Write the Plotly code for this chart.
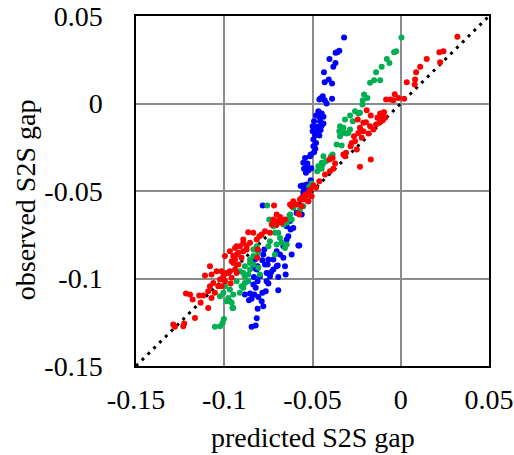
import plotly.graph_objects as go

# ---- data (predicted, observed S2S gap) ----
blue_x = [-0.0321, -0.0348, -0.0359, -0.0369, -0.0404, -0.0370, -0.0382, -0.0435, -0.0408, -0.0431,
          -0.0389, -0.0442, -0.0454, -0.0431, -0.0420, -0.0389, -0.0461, -0.0467, -0.0448, -0.0438,
          -0.0461, -0.0480, -0.0491, -0.0457, -0.0438, -0.0499, -0.0473, -0.0448, -0.0499, -0.0476,
          -0.0454, -0.0486, -0.0461, -0.0495, -0.0480, -0.0495, -0.0484, -0.0491, -0.0510, -0.0542,
          -0.0552, -0.0529, -0.0548, -0.0522, -0.0537, -0.0507, -0.0510, -0.0533, -0.0556, -0.0548,
          -0.0524, -0.0782, -0.0552, -0.0524, -0.0627, -0.0646, -0.0624, -0.0637, -0.0646, -0.0580,
          -0.0665, -0.0618, -0.0703, -0.0684, -0.0722, -0.0665, -0.0779, -0.0750, -0.0769, -0.0722,
          -0.0703, -0.0656, -0.0760, -0.0816, -0.0798, -0.0741, -0.0694, -0.0832, -0.0652, -0.0697,
          -0.0754, -0.0735, -0.0760, -0.0750, -0.0811, -0.0835, -0.0822, -0.0694, -0.0765, -0.0784,
          -0.0854, -0.0830, -0.0883, -0.0807, -0.0845, -0.0860, -0.0788, -0.0779, -0.0811, -0.0816,
          -0.0822, -0.0845, -0.0773, -0.0807, -0.0826, -0.0784, -0.0811, -0.0835, -0.0567, -0.0609,
          -0.0590, -0.0561, -0.0609, -0.0575, -0.0514, -0.0533]
blue_y = [0.0377, 0.0301, 0.0293, 0.0290, 0.0255, 0.0232, 0.0210, 0.0179, 0.0137, 0.0122,
          0.0114, 0.0042, 0.0030, 0.0019, 0.0000, 0.0027, 0.0023, -0.0044, -0.0057, -0.0076,
          -0.0076, -0.0069, -0.0101, -0.0101, -0.0114, -0.0130, -0.0133, -0.0126, -0.0158, -0.0158,
          -0.0152, -0.0183, -0.0183, -0.0206, -0.0225, -0.0244, -0.0259, -0.0278, -0.0291, -0.0311,
          -0.0339, -0.0343, -0.0373, -0.0381, -0.0396, -0.0370, -0.0438, -0.0463, -0.0469, -0.0491,
          -0.0488, -0.0583, -0.0511, -0.0558, -0.0672, -0.0701, -0.0720, -0.0758, -0.0777, -0.0812,
          -0.0815, -0.0863, -0.0844, -0.0863, -0.0892, -0.0882, -0.0863, -0.0892, -0.0920, -0.0949,
          -0.0930, -0.0930, -0.0968, -0.0949, -0.0987, -0.0987, -0.0991, -0.0991, -0.0977, -0.0926,
          -0.0920, -0.0964, -0.1015, -0.1029, -0.1015, -0.1034, -0.1053, -0.1067, -0.1073, -0.1082,
          -0.1086, -0.1092, -0.1092, -0.1105, -0.1116, -0.1124, -0.1130, -0.1158, -0.1173, -0.1227,
          -0.1269, -0.1276, -0.0834, -0.0844, -0.0892, -0.0895, -0.0930, -0.0939, -0.0472, -0.0587,
          -0.0625, -0.0634, -0.0711, -0.0812, -0.0301, -0.0358]

green_x = [0.0004, -0.0026, -0.0038, -0.0079, -0.0064, -0.0108, -0.0140, -0.0117, -0.0151, -0.0174,
           -0.0208, -0.0189, -0.0215, -0.0217, -0.0259, -0.0240, -0.0287, -0.0316, -0.0272, -0.0344,
           -0.0325, -0.0348, -0.0321, -0.0297, -0.0344, -0.0363, -0.0335, -0.0386, -0.0438, -0.0423,
           -0.0448, -0.0467, -0.0448, -0.0473, -0.0495, -0.0518, -0.0533, -0.0756, -0.0745, -0.0609,
           -0.0627, -0.0618, -0.0646, -0.0665, -0.0694, -0.0713, -0.0684, -0.0675, -0.0703, -0.0656,
           -0.0816, -0.0835, -0.0807, -0.0835, -0.0854, -0.0835, -0.0807, -0.0854, -0.0864, -0.0892,
           -0.0883, -0.0911, -0.0883, -0.0930, -0.0902, -0.0996, -0.0968, -0.1005, -0.0949, -0.0977,
           -0.0987, -0.0958, -0.0949, -0.1024, -0.1053, -0.1024, -0.1009, -0.1002, -0.0713, -0.0750,
           -0.0741, -0.0646, -0.0798, -0.0864, -0.0883, -0.0892, -0.0911, -0.0968, -0.0954, -0.0395,
           -0.0442, -0.0505, -0.0552, -0.0571, -0.0631, -0.0231, -0.0306, -0.0287, -0.0722, -0.0854]
green_y = [0.0377, 0.0299, 0.0293, 0.0255, 0.0232, 0.0210, 0.0179, 0.0133, 0.0133, 0.0118,
           0.0051, 0.0032, 0.0019, -0.0006, -0.0044, -0.0057, -0.0069, -0.0091, -0.0101, -0.0130,
           -0.0139, -0.0158, -0.0168, -0.0168, -0.0187, -0.0234, -0.0240, -0.0291, -0.0301, -0.0330,
           -0.0339, -0.0358, -0.0373, -0.0387, -0.0472, -0.0476, -0.0533, -0.0583, -0.0663, -0.0596,
           -0.0634, -0.0663, -0.0682, -0.0692, -0.0739, -0.0739, -0.0768, -0.0796, -0.0806, -0.0825,
           -0.0815, -0.0834, -0.0853, -0.0872, -0.0892, -0.0920, -0.0939, -0.0949, -0.0977, -0.0968,
           -0.0930, -0.0958, -0.0987, -0.1015, -0.1044, -0.1044, -0.1063, -0.1082, -0.1092, -0.1111,
           -0.1130, -0.1139, -0.1168, -0.1101, -0.1276, -0.1273, -0.1253, -0.1231, -0.0863, -0.0815,
           -0.0787, -0.0806, -0.0977, -0.1015, -0.1025, -0.1053, -0.1082, -0.1130, -0.1168, -0.0301,
           -0.0349, -0.0457, -0.0587, -0.0606, -0.0653, -0.0053, -0.0171, -0.0149, -0.0701, -0.0911]

red_x = [0.0321, 0.0242, 0.0219, 0.0223, 0.0147, 0.0110, 0.0087, 0.0034, 0.0081, 0.0079,
         -0.0034, -0.0060, -0.0083, -0.0042, -0.0013, 0.0019, -0.0095, -0.0108, -0.0089, -0.0102,
         -0.0170, -0.0117, -0.0132, -0.0197, -0.0174, -0.0231, -0.0212, -0.0240, -0.0183, -0.0265,
         -0.0221, -0.0155, -0.0140, -0.0121, -0.0278, -0.0259, -0.0284, -0.0249, -0.0310, -0.0170,
         -0.0316, -0.0386, -0.0404, -0.0372, -0.0382, -0.0401, -0.0231, -0.0429, -0.0461, -0.0495,
         -0.0514, -0.0480, -0.0537, -0.0505, -0.0524, -0.0571, -0.0609, -0.0590, -0.0561, -0.0518,
         -0.0542, -0.0561, -0.0627, -0.0718, -0.0575, -0.0703, -0.0684, -0.0722, -0.0694, -0.0656,
         -0.0675, -0.0703, -0.0731, -0.0741, -0.0769, -0.0788, -0.0801, -0.0835, -0.0864, -0.0816,
         -0.0892, -0.0854, -0.0873, -0.0911, -0.0939, -0.0892, -0.0930, -0.0949, -0.0902, -0.0958,
         -0.0920, -0.0939, -0.0968, -0.1081, -0.1109, -0.1072, -0.1043, -0.1015, -0.1062, -0.1034,
         -0.1081, -0.1091, -0.1053, -0.1072, -0.1217, -0.1194, -0.1179, -0.1119, -0.1134, -0.1091,
         -0.1166, -0.1289, -0.1280, -0.0996, -0.0968, -0.0939, -0.0920, -0.0977, -0.0958, -0.0996,
         -0.1015, -0.1005, -0.0930, -0.0892, -0.1227, -0.1232, -0.1142, -0.0964, -0.0930, -0.0873,
         -0.0811, -0.0813, -0.0193, -0.0244, -0.0098, -0.0325, -0.0552, -0.0580, -0.0618, -0.0987,
         -0.1024, -0.0949, -0.0212]
red_y = [0.0381, 0.0299, 0.0293, 0.0236, 0.0255, 0.0210, 0.0179, 0.0122, 0.0137, 0.0109,
         0.0053, 0.0023, 0.0023, 0.0019, 0.0032, 0.0027, -0.0050, -0.0072, -0.0082, -0.0095,
         -0.0069, -0.0057, -0.0082, -0.0107, -0.0130, -0.0139, -0.0158, -0.0168, -0.0171, -0.0187,
         -0.0196, -0.0149, -0.0120, -0.0110, -0.0225, -0.0215, -0.0244, -0.0263, -0.0282, -0.0320,
         -0.0301, -0.0311, -0.0320, -0.0343, -0.0373, -0.0387, -0.0362, -0.0406, -0.0444, -0.0469,
         -0.0491, -0.0482, -0.0526, -0.0530, -0.0558, -0.0549, -0.0558, -0.0577, -0.0587, -0.0501,
         -0.0520, -0.0539, -0.0577, -0.0583, -0.0634, -0.0634, -0.0648, -0.0663, -0.0672, -0.0663,
         -0.0682, -0.0692, -0.0692, -0.0739, -0.0730, -0.0749, -0.0758, -0.0739, -0.0735, -0.0777,
         -0.0777, -0.0796, -0.0815, -0.0815, -0.0825, -0.0844, -0.0863, -0.0872, -0.0882, -0.0901,
         -0.0920, -0.0949, -0.0958, -0.0930, -0.0983, -0.0977, -0.0958, -0.0958, -0.1025, -0.1044,
         -0.1044, -0.1073, -0.1082, -0.1111, -0.1086, -0.1092, -0.1120, -0.1097, -0.1139, -0.1168,
         -0.1225, -0.1263, -0.1276, -0.0872, -0.0844, -0.0892, -0.0853, -0.0968, -0.0996, -0.1015,
         -0.1044, -0.0987, -0.0815, -0.0796, -0.1257, -0.1273, -0.1097, -0.1029, -0.0968, -0.0834,
         -0.0834, -0.0882, -0.0038, -0.0091, -0.0053, -0.0291, -0.0549, -0.0629, -0.0587, -0.0968,
         -0.1006, -0.0911, -0.0110]

diag = [-0.15, 0.05]
ticks = [-0.15, -0.1, -0.05, 0, 0.05]
tick_text = ["-0.15", "-0.1", "-0.05", "0", "0.05"]

FONT = "Liberation Serif"
FS = 28

fig = go.Figure()
fig.add_trace(go.Scatter(x=diag, y=diag, mode="lines",
                         line=dict(color="black", width=3, dash="3px,5.2px"),
                         hoverinfo="skip", showlegend=False))
for xs, ys, col in [(blue_x, blue_y, "#0000FF"), (green_x, green_y, "#00B050"), (red_x, red_y, "#FF0000")]:
    fig.add_trace(go.Scatter(x=xs, y=ys, mode="markers",
                             marker=dict(color=col, size=6, line=dict(width=0)),
                             showlegend=False))

axis_common = dict(
    range=[-0.15, 0.05], tickvals=ticks, ticktext=tick_text,
    showgrid=True, gridcolor="#8c8c8c", gridwidth=1.5,
    showline=True, linecolor="black", linewidth=1.5, mirror=True,
    zeroline=False, ticks="", automargin=False,
    tickfont=dict(family=FONT, size=FS, color="black"),
)
fig.update_xaxes(**axis_common, ticklabelstandoff=8)
fig.update_yaxes(**axis_common, ticklabelstandoff=26)

fig.update_layout(
    width=514, height=455,
    margin=dict(l=136, r=25, t=16, b=89, autoexpand=False),
    plot_bgcolor="white", paper_bgcolor="white",
    font=dict(family=FONT, color="black"),
    annotations=[
        dict(text="predicted S2S gap", xref="paper", yref="paper",
             x=0.5, y=-0.205, xanchor="center", yanchor="middle",
             showarrow=False, font=dict(family=FONT, size=FS)),
        dict(text="observed S2S gap", xref="paper", yref="paper",
             x=-0.314, y=0.474, xanchor="center", yanchor="middle",
             textangle=-90, showarrow=False, font=dict(family=FONT, size=FS)),
    ],
)

fig.write_html("out.html")
